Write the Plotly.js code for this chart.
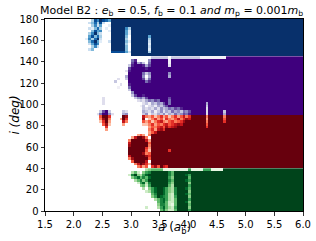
<!DOCTYPE html>
<html><head><meta charset="utf-8">
<script src="https://cdn.plot.ly/plotly-3.0.1.min.js"></script>
<style>html,body{margin:0;padding:0;background:#fff}</style>
</head><body><div id="chart" style="width:316px;height:241px"></div>
<script>
// ---- grid description ----
const aStart = 1.5, aCell = 0.05;          // semi-major axis cells
const iCell = 2.5;                          // inclination cells (deg)
const leftWhite = '..............';        // a = 1.50 - 2.20 : all unstable (white)
const rightSolid = '999999999999999999999999'; // a = 4.80 - 6.00 : all stable (darkest)
const xTickVals = [1.5, 2.0, 2.5, 3.0, 3.5, 4.0, 4.5, 5.0, 5.5, 6.0];
const xTickText = ['1.5','2.0','2.5','3.0','3.5','4.0','4.5','5.0','5.5','6.0'];
const yTickVals = [0, 20, 40, 60, 80, 100, 120, 140, 160, 180];

// Each row: detail columns a = 2.20 - 4.80 (52 cells), top row first. '.' = white, 1-9 = intensity
const blueRows = [ // i = 180 -> 145
 ["..38698759","9999999999","9999999999","9999999999","9999999999","99"],
 [".247382..9","9999999999","9999999999","9999999999","9999999999","99"],
 ["..3625..19","9999999999","9999999999","9999999999","9999999999","99"],
 [".21473.1.9","9999639999","9999999999","9999999999","9999999999","99"],
 ["..4856..19","9999519999","9999999999","9999999999","9999999999","99"],
 [".36942...9","9999519999","9999999999","9999999999","9999999999","99"],
 [".58473...9","99994.9999","9959999999","9999999999","9999999999","99"],
 ["163792...9","99993.9999","9939999999","9999999999","9999999999","99"],
 [".47951..29","9999419999","9929999999","9999999999","9999999999","99"],
 [".2586....9","99993.9999","9919999999","9999999999","9999999999","99"],
 ["..362....9","99994.9999","9929999999","9999999999","9999999999","99"],
 [".24......9","99994.9999","9919999999","9999999999","9999999999","99"],
 [".........8","8888529999","9939999999","9999999999","9999999999","99"],
 ["..........","......9999","9999999999","9999999999","9999999999","99"]
];
const purpleRows = [ // i = 145 -> 90
 ["..........","..........","...333333.","3333333333","1111111119","99"],
 ["..........","......68..","..59999991","9999999999","9999999999","99"],
 ["..........","......7946","3.69999991","9999999999","9999999999","99"],
 ["..........",".....38999","8479999992","9999999999","9999999999","99"],
 ["..........",".....79999","9899999999","9999999999","9999999999","99"],
 ["..........","....289999","9999999999","9999999999","9999999999","99"],
 ["..........",".....99999","6359999995","9999999999","9999999999","99"],
 ["..........","....499999","5.49999994","9999999999","9999999999","99"],
 ["..........",".2..399999","7269999999","9999999999","9999999999","99"],
 ["..........","3....99999","9689999999","9999999999","9999999999","99"],
 ["..........","..2..89999","9999999999","9999999999","9999999999","99"],
 ["..........",".1...69999","9999999999","9999999999","9999999999","99"],
 ["..........",".....39999","9999999999","9999999999","9999999999","99"],
 ["..........","......5999","9999999999","9999999999","9999999999","99"],
 ["..........","......3799","8999999999","9999999999","9999999999","99"],
 ["......2...",".......356","4799999997","9999999999","9999999999","99"],
 ["......2...","........23","2465769996","9999999999","9999999999","99"],
 ["......2...","..........","2314354796","9999999999","9949999999","99"],
 ["..........",".........1","3.23143579","9999999999","9939999999","99"],
 ["..........","..........","3232425346","5768999999","9929999999","99"],
 [".....3793.","...32.....","4324135243","6453657999","9929999939","99"],
 ["....269952","...45.....","3513243524","3645768999","9929999949","99"]
];
const redRows = [ // i = 90 -> 40
 [".....5996.","...98.....","7435246352","4635746999","9949999949","99"],
 [".....4894.","..396.....","8.24635264","3574687999","9939999959","99"],
 [".....2693.","...74.....","5352467435","6456899999","9949999969","99"],
 ["......582.","...3......","2246354675","6787999999","9959999999","99"],
 [".......6..","..........","..35467586","7899999999","9969999999","99"],
 [".......3..","..........","..46378699","9999999999","9999999999","99"],
 ["..........","..........","..35799999","9999999999","9999999999","99"],
 ["..........","........35","3.49999999","9999999999","9999999999","99"],
 ["..........","......3799","84.9999999","9999999999","9999999999","99"],
 ["..........",".....49999","9739999999","9999999999","9999999999","99"],
 ["..........",".....79999","9959999999","9999999999","9999999999","99"],
 ["..........",".....89999","9949999999","9999999999","9999999999","99"],
 ["..........",".....99999","9639999999","9999999999","9999999999","99"],
 ["..........",".....99999","9529999996","9999999999","9999999999","99"],
 ["..........",".....99999","8459999999","9999999999","9999999999","99"],
 ["..........",".....79999","9869999999","9999999999","9999999999","99"],
 ["..........",".....48999","9959999999","9999999999","9999999999","99"],
 ["..........","......5999","97.9999999","9999999999","9999999999","99"],
 ["..........",".......479","8639999999","9999999999","9999999999","99"],
 ["..........","........46","35.6859769","9999999999","9999999999","99"]
];
const greenRows = [ // i = 40 -> 0
 ["..........","..........",".345555111","1111116111","1666111199","99"],
 ["..........","......352.","4679999997","5999999999","9999999999","99"],
 ["..........",".....27943","6899999997","5999986999","9999999999","99"],
 ["..........","......4685","7589999996","4999995999","9999999999","99"],
 ["..........",".......357","4699999997","5999986999","9999999999","99"],
 ["..........","........26","8379999996","4999994999","9999999999","99"],
 ["..........",".........4","5269999995","3999996999","9999999999","99"],
 ["..........","..........","3.46899864","3799985999","9999999999","99"],
 ["..........","..........",".236899864","3799994999","9999999999","99"],
 ["..........","..........","...5799863","2799985999","9999999999","99"],
 ["..........","..........","...4698763","2699994999","9999999999","99"],
 ["..........","..........","....357863","2599996999","9999999999","99"],
 ["..........","..........",".....57852","2599984999","9999999999","99"],
 ["..........","..........",".....47752","1599995999","9999999999","99"],
 ["..........","..........",".2...36853","2699994999","9999999999","99"],
 ["..........","..........","......5742","2599996999","9999999999","99"]
];

const bandBottoms = {blue: 145, purple: 90, red: 40, green: 0};

const cmaps = {
 blue:   ['#f7fbff','#deebf7','#c6dbef','#9ecae1','#6baed6','#4292c6','#2171b5','#08519c','#08306b'],
 purple: ['#fcfbfd','#efedf5','#dadaeb','#bcbddc','#9e9ac8','#807dba','#6a51a3','#54278f','#3f007d'],
 red:    ['#fff5f0','#fee0d2','#fcbba1','#fc9272','#fb6a4a','#ef3b2c','#cb181d','#a50f15','#67000d'],
 green:  ['#f7fcf5','#e5f5e0','#c7e9c0','#a1d99b','#74c476','#41ab5d','#238b45','#006d2c','#00441b']
};

function toZ(rows) {
  const z = rows.map(function (g) {
    const s = leftWhite + g.join('') + rightSolid;
    if (s.length !== 90) throw new Error('bad row length ' + s.length + ': ' + g.join('|'));
    return s.split('').map(function (c) { return c === '.' ? null : (+c) / 9; });
  });
  return z.reverse(); // bottom row first
}
function scale(cols) { return cols.map(function (c, k) { return [k / (cols.length - 1), c]; }); }

const traces = [['blue', blueRows], ['purple', purpleRows], ['red', redRows], ['green', greenRows]].map(function (b) {
  return {
    type: 'heatmap', z: toZ(b[1]),
    x0: aStart + aCell / 2, dx: aCell,
    y0: bandBottoms[b[0]] + iCell / 2, dy: iCell,
    zmin: 0, zmax: 1, colorscale: scale(cmaps[b[0]]),
    showscale: false, hoverinfo: 'skip', zsmooth: false
  };
});

const layout = {
  width: 316, height: 241,
  margin: {l: 45, r: 13, t: 19, b: 30, pad: 0},
  paper_bgcolor: '#ffffff', plot_bgcolor: '#ffffff',
  font: {family: 'DejaVu Sans', size: 10, color: '#000000'},
  showlegend: false,
  title: {
    text: 'Model B2 : <i>e</i><sub>b</sub> = 0.5, <i>f</i><sub>b</sub> = 0.1 <i>and m</i><sub>p</sub> = 0.001<i>m</i><sub>b</sub>',
    font: {size: 11, family: 'DejaVu Sans', color: '#000'},
    x: 0.543, xanchor: 'center', y: 0.958, yanchor: 'middle'
  },
  xaxis: {
    range: [1.5, 6.0], tickvals: xTickVals, ticktext: xTickText,
    ticks: 'outside', ticklen: 3.5, tickwidth: 0.8, tickcolor: '#000',
    showline: true, linecolor: '#000', linewidth: 1, mirror: true,
    showgrid: false, zeroline: false, tickfont: {size: 10}
  },
  yaxis: {
    range: [0, 180], tickvals: yTickVals,
    ticks: 'outside', ticklen: 3.5, tickwidth: 0.8, tickcolor: '#000',
    showline: true, linecolor: '#000', linewidth: 1, mirror: true,
    showgrid: false, zeroline: false, tickfont: {size: 10}
  },
  annotations: [
    {text: '<i>a</i> (<i>a</i><sub>b</sub>)', xref: 'paper', yref: 'paper', x: 0.5, y: -0.088,
     xanchor: 'center', yanchor: 'middle', showarrow: false, font: {size: 12}},
    {text: '<i>i (deg)</i>', xref: 'paper', yref: 'paper', x: -0.118, y: 0.5, textangle: -90,
     xanchor: 'center', yanchor: 'middle', showarrow: false, font: {size: 12}}
  ]
};

Plotly.newPlot('chart', traces, layout, {staticPlot: true, displayModeBar: false});
</script></body></html>
